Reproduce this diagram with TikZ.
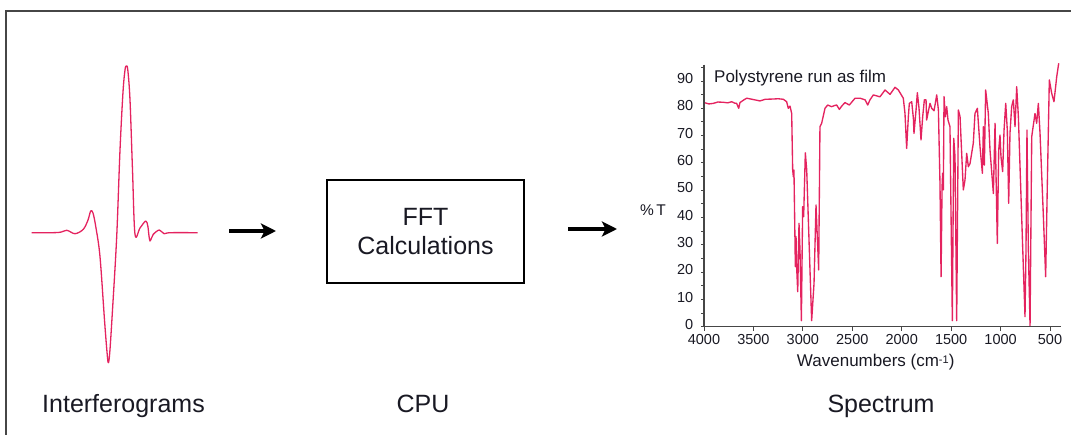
\documentclass[tikz,border=0pt]{standalone}
\usepackage{fontspec}
\setmainfont{Liberation Sans}
\usetikzlibrary{arrows.meta}
\definecolor{trace}{RGB}{228,35,95}
\definecolor{axisc}{RGB}{70,70,70}
\definecolor{txt}{RGB}{25,25,35}
\begin{document}
\begin{tikzpicture}[x=1pt,y=-1pt,
  bigtxt/.style={font=\fontsize{25}{29}\selectfont, text=txt, inner sep=0pt},
  ticklab/.style={font=\fontsize{14.5}{16}\selectfont, text=txt, inner sep=0pt},
  fatarrow/.style={line width=3.2pt, -{Stealth[length=15pt,width=15pt,inset=3.5pt]}},
  calcbox/.style={draw, line width=1.5pt, minimum width=197pt, minimum height=103pt, align=center, inner sep=0pt},
  tracel/.style={draw=trace, line width=1.35pt, line join=round}
]
\useasboundingbox (0,0) rectangle (1071,435);
% frame
\draw[line width=2pt, draw=axisc] (1071,11) -- (6,11) -- (6,435);

% interferogram
\draw[tracel, line width=1.3pt] plot[smooth, tension=0.55] coordinates {
(31.7,232.7) (58.3,232.5) (66.7,230.3) (75,233.7) (83.3,229.3) (88,220) (90.7,211) (93,213) (96,228) (100,256.7) (104.5,320) (107,352) (108.3,362.7) (109.8,352) (112.5,310) (116.7,236.7) (120,150) (123,92) (125,70) (126.3,66) (127.8,70) (130,100) (132.5,170) (135,234.3) (140,228) (145.7,221) (147.8,226) (149,236) (150,241) (151.5,238) (153.3,234.3) (159.3,230) (164,233.7) (170,232.7) (197.7,232.7)};

% box
\node[calcbox, bigtxt] (fft) at (425.5,231.5) {FFT\\Calculations};

% arrows
\coordinate (a1s) at (229,231);
\coordinate (a1e) at (276,231);
\coordinate (a2s) at (568,229);
\coordinate (a2e) at (617,229);
\draw[fatarrow] (a1s) -- (a1e);
\draw[fatarrow] (a2s) -- (a2e);

% bottom labels
\node[bigtxt, anchor=base] (l1) at (123.5,413) {Interferograms};
\node[bigtxt, anchor=base] (l2) at (423,413) {CPU};
\node[bigtxt, anchor=base] (l3) at (881,413) {Spectrum};

% spectrum
\begin{scope}[xshift=1099.44pt, yshift=-326.7pt, x=-0.09886pt, y=2.73pt]
  \draw[tracel] plot coordinates {
(4000,82.1) (3950,81.6) (3906,81.8) (3860,82.3) (3804,82.2) (3760,82.0) (3720,82.4) (3690,81.9) (3670,81.8) (3649,80.0) (3636,82.1) (3600,83.0) (3568,83.7) (3500,83.2) (3434,82.7) (3380,83.3) (3299,83.4) (3250,83.5) (3197,83.3) (3164,82.4) (3147,80.0) (3130,80.8) (3113,78.1) (3103,57.4) (3096,54.9) (3090,57.4) (3076,22.0) (3069,33.0) (3063,22.0) (3052,12.8) (3039,37.9) (3029,28.1) (3015,2.2) (3002,44.0) (2992,40.3) (2975,63.7) (2961,57.4) (2911,2.2) (2887,15.9) (2867,44.6) (2854,33.0) (2840,20.8) (2827,73.3) (2810,74.5) (2776,80.0) (2749,81.2) (2709,80.6) (2680,81.0) (2658,81.2) (2631,79.6) (2607,80.8) (2574,82.1) (2530,81.2) (2472,83.7) (2422,83.7) (2371,83.1) (2344,81.2) (2321,83.1) (2287,84.9) (2220,84.2) (2169,86.7) (2118,85.1) (2068,87.7) (2034,86.7) (1984,83.7) (1967,78.1) (1950,65.3) (1933,76.9) (1923,81.8) (1899,82.4) (1882,76.3) (1876,70.8) (1855,79.4) (1842,85.7) (1825,80.0) (1805,68.4) (1788,76.9) (1771,83.1) (1754,83.1) (1748,75.7) (1731,78.8) (1714,81.8) (1697,80.0) (1673,79.1) (1646,84.9) (1629,79.4) (1613,52.5) (1602,18.3) (1592,51.3) (1586,56.2) (1579,50.1) (1572,84.3) (1559,76.9) (1545,80.6) (1532,75.7) (1512,73.3) (1488,2.2) (1474,69.0) (1461,62.3) (1444,2.2) (1427,79.4) (1410,76.9) (1377,50.1) (1360,53.7) (1343,63.5) (1326,58.6) (1309,59.8) (1276,67.2) (1259,78.1) (1235,80.0) (1208,65.9) (1184,56.2) (1174,73.3) (1164,59.2) (1151,86.7) (1124,78.1) (1107,64.7) (1073,48.8) (1056,74.5) (1033,30.5) (1019,64.7) (1006,70.2) (996,62.3) (979,56.8) (965,72.0) (948,81.8) (932,72.0) (918,45.2) (905,70.8) (888,80.6) (871,83.1) (854,73.3) (837,87.9) (820,76.9) (770,22.0) (753,3.7) (743,28.1) (733,72.0) (719,28.1) (702,0.3) (685,69.6) (652,78.1) (635,74.5) (618,81.8) (601,70.8) (567,40.3) (544,18.3) (527,52.5) (507,90.4) (483,85.5) (460,82.4) (432,91.6) (412,96.5)};
  % axes
  \draw[axisc, line width=1.2pt] (4000,96) -- (4000,0) -- (392,0);
  \foreach \t in {0,5,...,95} {
    \draw[axisc, line width=0.9pt] (4000,\t) -- ++(-3.5pt,0pt);
  }
  \foreach \t in {0,10,...,90} {
    \node[ticklab, anchor=mid east, xshift=-10.5pt] (yl\t) at (4000,\t) {\t};
  }
  \foreach \w in {4000,3500,...,500} {
    \draw[axisc, line width=0.9pt] (\w,0) -- ++(0pt,-4pt);
    \node[ticklab, anchor=base, yshift=-18.3pt] (xl\w) at (\w,0) {\w};
  }
\end{scope}
\node[font=\fontsize{15.5}{17}\selectfont, text=txt, inner sep=0pt, anchor=center] (pt) at (653,210) {\%\,T};
\node[font=\fontsize{17}{19}\selectfont, text=txt, inner sep=0pt, anchor=base west] (title) at (714,82.3) {Polystyrene run as film};
\node[font=\fontsize{17}{19}\selectfont, text=txt, inner sep=0pt, anchor=base] (xlabel) at (875.7,366.7) {Wavenumbers (cm\raisebox{0.35ex}{\fontsize{11}{12}\selectfont -1})};
\end{tikzpicture}
\end{document}
